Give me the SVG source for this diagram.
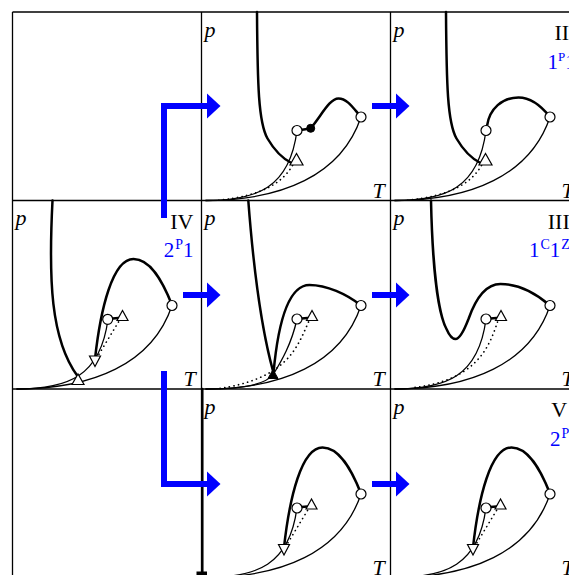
<svg xmlns="http://www.w3.org/2000/svg" width="569" height="575" viewBox="0 0 569 575">
<style>
.grid{stroke:#000;stroke-width:1.3;fill:none}
.thin{stroke:#000;stroke-width:1.3;fill:none}
.thick{stroke:#000;stroke-width:2.5;fill:none;stroke-linecap:round;stroke-linejoin:round}
.dot{stroke:#000;stroke-width:1.7;fill:none;stroke-dasharray:0.1 4.6;stroke-linecap:round}
.open{fill:#fff;stroke:#000;stroke-width:1.2}
.solid{fill:#000;stroke:#000;stroke-width:1}
.ax{font-family:"Liberation Serif","Times New Roman",serif;font-size:22px;font-style:italic;fill:#000}
.num{font-family:"Liberation Serif","Times New Roman",serif;font-size:22px;fill:#000}
.code{font-family:"Liberation Serif","Times New Roman",serif;font-size:21px;fill:#0000ff}
.sh{fill:none;stroke:#0000ff;stroke-width:6;stroke-linejoin:miter}
.ah{fill:#0000ff}
</style>
<rect width="569" height="575" fill="#fff"/>
<g id="grid" class="grid">
<line x1="12.5" y1="12" x2="12.5" y2="575"/>
<line x1="201.5" y1="12" x2="201.5" y2="575"/>
<line x1="390.5" y1="12" x2="390.5" y2="575"/>
<line x1="12.5" y1="12" x2="569" y2="12"/>
<line x1="12.5" y1="200.5" x2="569" y2="200.5"/>
<line x1="12.5" y1="389" x2="569" y2="389"/>
</g>

<g id="panel-I" transform="translate(201.5,200.5)">
<path class="thin" d="M4,0 C80,0 140,-25 159.5,-83.5"/>
<path class="thin" d="M4,0 C55,0 88,-12 95.5,-70"/>
<path class="dot" d="M91,-35 C82,-20 65,-5 15,0"/>
<path class="thick" d="M55.5,-188.5 C56,-115 57,-78 66,-62 C73,-50 81,-42 90,-37.5"/>
<path class="thick" d="M95.5,-70 L109,-72 C120,-85 128,-102 137,-102 C146,-102 152,-92 159.5,-83.5"/>
<polygon class="open" points="95,-47 88.5,-35.5 101.5,-35.5"/>
<circle class="open" cx="95.5" cy="-70" r="5"/>
<circle class="solid" cx="109.2" cy="-72.2" r="4"/>
<circle class="open" cx="159.5" cy="-83.5" r="5"/>
<text class="ax" x="3" y="-164">p</text>
<text class="ax" x="171" y="-3">T</text>
</g>

<g id="panel-II" transform="translate(390.5,200.5)">
<path class="thin" d="M4,0 C80,0 140,-25 159.5,-83.5"/>
<path class="thin" d="M4,0 C55,0 88,-12 95.5,-70"/>
<path class="dot" d="M91,-35 C82,-20 65,-5 15,0"/>
<path class="thick" d="M55.5,-188.5 C56,-115 57,-78 66,-62 C73,-50 81,-42 90,-37.5"/>
<path class="thick" d="M96.5,-74.5 C99,-92 112,-103 128,-103 C142,-103 152,-93 159.5,-83.5"/>
<polygon class="open" points="95,-47 88.5,-35.5 101.5,-35.5"/>
<circle class="open" cx="95.5" cy="-70" r="5"/>
<circle class="open" cx="159.5" cy="-83.5" r="5"/>
<text class="ax" x="3" y="-164">p</text>
<text class="ax" x="171" y="-3">T</text>
<text class="num" x="164" y="-160.5">II</text>
<text class="code" x="157" y="-132">1<tspan font-size="13" dy="-8">P</tspan><tspan dy="8">1</tspan></text>
</g>

<g id="panel-IV" transform="translate(12.5,389)">
<path class="thin" d="M4,0 C80,0 140,-25 159.5,-83.5"/>
<path class="thin" d="M4,0 C55,0 88,-12 95.5,-70"/>
<path class="thick" d="M40,-188.5 C36,-110 38,-50 65,-13"/>
<path class="dot" d="M106,-67 L86,-34"/>
<path class="thick" d="M82.5,-30 C88,-80 100,-130 121,-130 C138,-130 150,-108 159.5,-84"/>
<path class="thick" d="M100,-70.5 L106,-71"/>
<polygon class="open" points="65.5,-15 59.5,-4.5 71.5,-4.5"/>
<polygon class="open" points="77,-33 88,-33 82.5,-22.5"/>
<polygon class="open" points="110,-78.5 104.5,-68.5 115.5,-68.5"/>
<circle class="open" cx="95.2" cy="-69.7" r="5"/>
<circle class="open" cx="159.5" cy="-83.5" r="5"/>
<text class="ax" x="3" y="-164">p</text>
<text class="ax" x="171" y="-3">T</text>
<text class="num" x="181" y="-160.5" text-anchor="end">IV</text>
<text class="code" x="181" y="-132.5" text-anchor="end">2<tspan font-size="14" dx="1" dy="-8">P</tspan><tspan dy="8">1</tspan></text>
</g>

<g id="panel-center" transform="translate(201.5,389)">
<path class="thin" d="M4,0 C80,0 140,-25 159.5,-83.5"/>
<path class="thin" d="M4,0 C45,0 65,-5 72,-15 C80,-28 90,-45 95.5,-70"/>
<path class="dot" d="M107,-67 C95,-40 85,-10 15,0"/>
<path class="thick" d="M46.8,-188.5 C52,-120 60,-60 71.5,-18"/>
<path class="thick" d="M72,-16 C76,-60 85,-104 108,-104 C125,-104 145,-95 159.5,-83.5"/>
<path class="thick" d="M100,-70.5 L106,-71"/>
<polygon class="solid" points="71.5,-19.5 66.5,-10.5 76.5,-10.5"/>
<polygon class="open" points="110.5,-78.5 105,-68.5 116,-68.5"/>
<circle class="open" cx="95.5" cy="-70" r="5"/>
<circle class="open" cx="159.5" cy="-83.5" r="5"/>
<text class="ax" x="3" y="-164">p</text>
<text class="ax" x="171" y="-3">T</text>
</g>

<g id="panel-III" transform="translate(390.5,389)">
<path class="thin" d="M4,0 C80,0 140,-25 159.5,-83.5"/>
<path class="thin" d="M4,0 C55,0 88,-12 95.5,-70"/>
<path class="dot" d="M107,-67 C98,-40 85,-8 20,-1"/>
<path class="thick" d="M40.5,-188.5 C42,-120 48,-75 56,-60 C59,-53 62,-50 65,-50 C69,-50 73,-57 78,-70 C85,-90 95,-105 110,-105 C128,-105 145,-96 159.5,-83.5"/>
<path class="thick" d="M100,-70.5 L106,-71"/>
<polygon class="open" points="110.5,-78.5 105,-68.5 116,-68.5"/>
<circle class="open" cx="95.5" cy="-70" r="5"/>
<circle class="open" cx="159.5" cy="-83.5" r="5"/>
<text class="ax" x="3" y="-164">p</text>
<text class="ax" x="171" y="-3">T</text>
<text class="num" x="157.3" y="-160.5">III</text>
<text class="code" x="138.5" y="-132.5">1<tspan font-size="14" dx="1" dy="-8">C</tspan><tspan dy="8">1</tspan><tspan font-size="14" dx="1" dy="-8">Z</tspan></text>
</g>

<g id="panel-bottom" transform="translate(201.5,577.5)">
<path class="thick" d="M0.8,-188.5 L0.8,-3" stroke-linecap="butt"/>
<rect class="solid" x="-4.5" y="-5.5" width="9.5" height="4"/>
<path class="thin" d="M4,0 C80,0 140,-25 159.5,-83.5"/>
<path class="thin" d="M4,0 C55,0 88,-12 95.5,-70"/>
<path class="dot" d="M106,-67 L86,-34"/>
<path class="thick" d="M82.5,-30 C88,-80 100,-130 121,-130 C138,-130 150,-108 159.5,-84"/>
<path class="thick" d="M100,-70.5 L106,-71"/>
<polygon class="open" points="77,-33 88,-33 82.5,-22.5"/>
<polygon class="open" points="110,-78.5 104.5,-68.5 115.5,-68.5"/>
<circle class="open" cx="95.5" cy="-69.5" r="5"/>
<circle class="open" cx="159.5" cy="-83.5" r="5"/>
<text class="ax" x="3" y="-164">p</text>
<text class="ax" x="171" y="-3">T</text>
</g>

<g id="panel-V" transform="translate(390.5,577.5)">
<path class="thin" d="M4,0 C80,0 140,-25 159.5,-83.5"/>
<path class="thin" d="M4,0 C55,0 88,-12 95.5,-70"/>
<path class="dot" d="M106,-67 L86,-34"/>
<path class="thick" d="M82.5,-30 C88,-80 100,-130 121,-130 C138,-130 150,-108 159.5,-84"/>
<path class="thick" d="M100,-70.5 L106,-71"/>
<polygon class="open" points="77,-33 88,-33 82.5,-22.5"/>
<polygon class="open" points="110,-78.5 104.5,-68.5 115.5,-68.5"/>
<circle class="open" cx="95.5" cy="-69.5" r="5"/>
<circle class="open" cx="159.5" cy="-83.5" r="5"/>
<text class="ax" x="3" y="-164">p</text>
<text class="ax" x="171" y="-3">T</text>
<text class="num" x="160.8" y="-160.5">V</text>
<text class="code" x="159.5" y="-132">2<tspan font-size="14" dx="1" dy="-8">P</tspan></text>
</g>

<g id="connectors">
<path class="sh" d="M164,218 V106 H208"/>
<polygon class="ah" points="207,93.5 220.5,106 207,118.5"/>
<path class="sh" d="M372,106 H397"/>
<polygon class="ah" points="396,93.5 409.5,106 396,118.5"/>
<path class="sh" d="M183,295 H208"/>
<polygon class="ah" points="207,282.5 220.5,295 207,307.5"/>
<path class="sh" d="M372,295 H397"/>
<polygon class="ah" points="396,282.5 409.5,295 396,307.5"/>
<path class="sh" d="M164,371 V484 H208"/>
<polygon class="ah" points="207,471.5 220.5,484 207,496.5"/>
<path class="sh" d="M372,484 H397"/>
<polygon class="ah" points="396,471.5 409.5,484 396,496.5"/>
</g>
</svg>
